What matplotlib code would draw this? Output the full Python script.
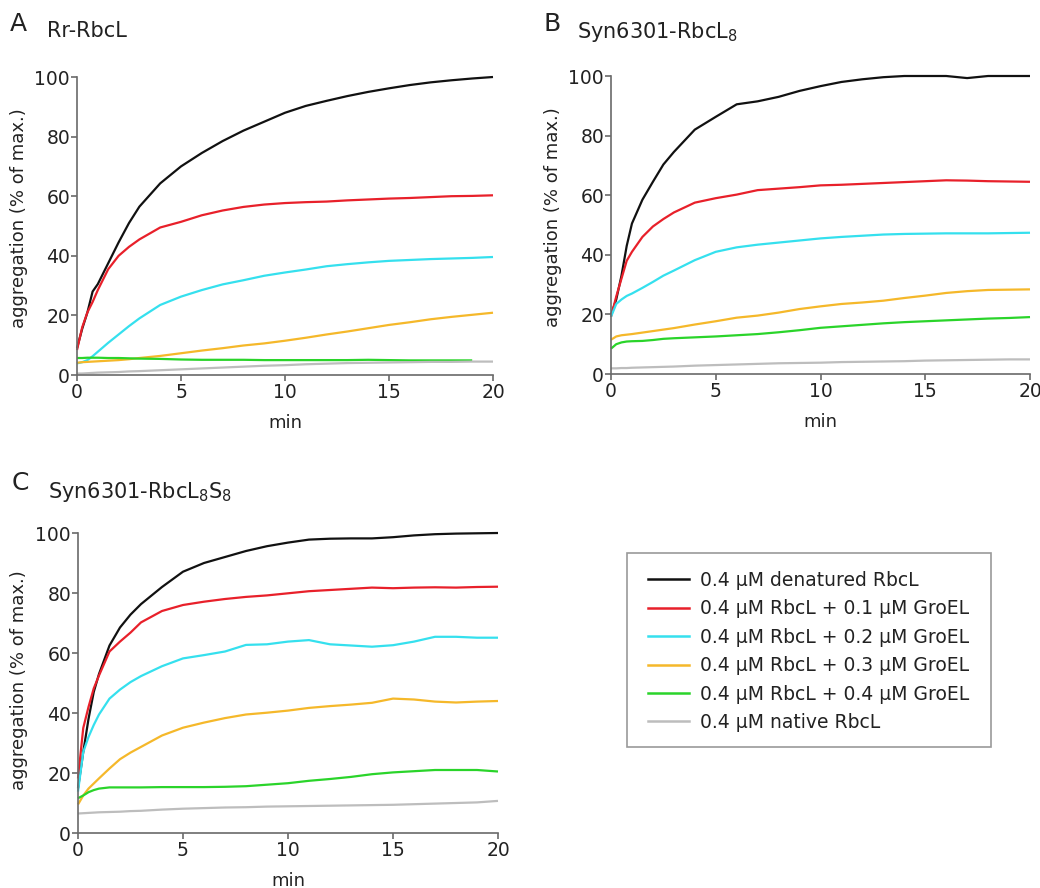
import numpy as np
import matplotlib
matplotlib.use("Agg")
import matplotlib.pyplot as plt
from matplotlib.lines import Line2D
from matplotlib.patches import Rectangle

plt.rcParams['font.family'] = ['DejaVu Sans']
plt.rcParams['mathtext.fontset'] = 'dejavusans'

# time axis (min), shared by all traces
t = [0, 0.25, 0.5, 0.75, 1, 1.5, 2, 2.5, 3, 4, 5, 6, 7, 8, 9, 10,
     11, 12, 13, 14, 15, 16, 17, 18, 19, 20]

series_labels = [
    "0.4 \u00b5M denatured RbcL",
    "0.4 \u00b5M RbcL + 0.1 \u00b5M GroEL",
    "0.4 \u00b5M RbcL + 0.2 \u00b5M GroEL",
    "0.4 \u00b5M RbcL + 0.3 \u00b5M GroEL",
    "0.4 \u00b5M RbcL + 0.4 \u00b5M GroEL",
    "0.4 \u00b5M native RbcL",
]
series_colors = ["#111111", "#e8202a", "#35e0ee", "#f5b82a", "#2ad42a", "#bdbdbd"]

# Panel A: Rr-RbcL
a_denat = [9, 15.5, 21, 28, 30.5, 37.5, 44.5, 51, 56.5, 64.3, 70, 74.5, 78.5, 82, 85, 88,
           90.3, 92, 93.6, 95, 96.2, 97.3, 98.2, 98.9, 99.5, 100]
a_groel01 = [8.4, 16, 21, 24.5, 28.5, 35.5, 40, 43, 45.5, 49.5, 51.4, 53.6, 55.2, 56.4, 57.2, 57.7,
             58, 58.2, 58.6, 58.9, 59.2, 59.4, 59.7, 60, 60.1, 60.3]
a_groel02 = [3.9, 4.3, 5, 6.3, 7.8, 10.8, 13.6, 16.4, 19, 23.5, 26.3, 28.5, 30.4, 31.8, 33.3, 34.4,
             35.4, 36.5, 37.2, 37.8, 38.3, 38.6, 38.9, 39.1, 39.3, 39.6]
a_groel03 = [4.1, 4.3, 4.4, 4.5, 4.6, 4.8, 5.0, 5.3, 5.7, 6.4, 7.3, 8.2, 9.0, 9.9, 10.6, 11.5,
             12.5, 13.6, 14.6, 15.7, 16.8, 17.7, 18.7, 19.5, 20.2, 20.9]
a_groel04 = [5.7, 5.7, 5.8, 5.8, 5.8, 5.7, 5.7, 5.6, 5.5, 5.4, 5.2, 5.1, 5.1, 5.1, 5.0, 5.0,
             5.0, 5.0, 5.0, 5.1, 5.0, 4.9, 4.9, 4.9, 4.9, np.nan]
a_native = [0.5, 0.5, 0.6, 0.7, 0.8, 0.9, 1.0, 1.2, 1.3, 1.6, 1.9, 2.2, 2.5, 2.8, 3.1, 3.3,
            3.6, 3.8, 4.0, 4.1, 4.2, 4.3, 4.4, 4.4, 4.5, 4.5]

# Panel B: Syn6301-RbcL8
b_denat = [19.8, 25, 33, 43, 50.5, 58.5, 64.5, 70.3, 74.5, 82, 86.3, 90.5, 91.5, 93, 95, 96.6,
           98, 98.9, 99.6, 100, 100, 100, 99.3, 100, 100, 100]
b_groel01 = [19.2, 26, 32, 38, 41, 46, 49.5, 52, 54.2, 57.5, 59, 60.2, 61.7, 62.2, 62.7, 63.3,
             63.5, 63.8, 64.1, 64.4, 64.7, 65, 64.9, 64.7, 64.6, 64.5]
b_groel02 = [19.2, 23.5, 25, 26.2, 27, 28.9, 30.9, 33, 34.7, 38.2, 41, 42.5, 43.4, 44.1, 44.8, 45.5,
             46, 46.4, 46.8, 47, 47.1, 47.2, 47.2, 47.2, 47.3, 47.4]
b_groel03 = [11.5, 12.6, 13, 13.2, 13.4, 13.9, 14.4, 14.9, 15.4, 16.6, 17.7, 18.9, 19.6, 20.6, 21.8, 22.7,
             23.5, 24, 24.6, 25.5, 26.3, 27.2, 27.8, 28.2, 28.3, 28.4]
b_groel04 = [8.5, 10.0, 10.6, 10.9, 11, 11.1, 11.4, 11.8, 12, 12.3, 12.6, 13, 13.4, 14, 14.7, 15.5,
             16, 16.5, 17, 17.4, 17.7, 18, 18.3, 18.6, 18.8, 19.1]
b_native = [1.9, 1.9, 2.0, 2.0, 2.1, 2.2, 2.3, 2.4, 2.5, 2.8, 3.0, 3.2, 3.4, 3.6, 3.7, 3.8,
            4.0, 4.1, 4.2, 4.3, 4.5, 4.6, 4.7, 4.8, 4.9, 4.9]

# Panel C: Syn6301-RbcL8S8
c_denat = [14.9, 27, 38, 47, 53, 62.5, 68.5, 72.8, 76.3, 82, 87.1, 90, 92, 94, 95.6, 96.8,
           97.8, 98.1, 98.2, 98.2, 98.6, 99.2, 99.6, 99.8, 99.9, 100]
c_groel01 = [18.2, 35, 42, 48.2, 52.5, 60.5, 63.8, 66.8, 70.2, 74, 76, 77.1, 78, 78.7, 79.2, 79.9,
             80.6, 81, 81.4, 81.8, 81.6, 81.8, 81.9, 81.8, 82, 82.1]
c_groel02 = [13.8, 27, 32, 36, 39.5, 44.8, 47.8, 50.3, 52.3, 55.6, 58.2, 59.3, 60.5, 62.7, 62.9, 63.8,
             64.3, 62.9, 62.5, 62.1, 62.6, 63.8, 65.4, 65.4, 65.1, 65.1]
c_groel03 = [9.5, 12.5, 14.8, 16.5, 18.2, 21.5, 24.6, 26.8, 28.7, 32.5, 35.1, 36.8, 38.3, 39.5, 40.1, 40.8,
             41.7, 42.3, 42.8, 43.4, 44.8, 44.5, 43.8, 43.5, 43.8, 44]
c_groel04 = [11.6, 12.5, 13.6, 14.3, 14.8, 15.2, 15.2, 15.2, 15.2, 15.3, 15.3, 15.3, 15.4, 15.6, 16.1, 16.6,
             17.4, 18, 18.7, 19.6, 20.2, 20.6, 21, 21, 21, 20.5]
c_native = [6.5, 6.6, 6.7, 6.8, 6.9, 7.0, 7.1, 7.3, 7.4, 7.8, 8.1, 8.3, 8.5, 8.6, 8.8, 8.9,
            9.0, 9.1, 9.2, 9.3, 9.4, 9.6, 9.8, 10.0, 10.2, 10.7]

panels = [
    ("A", "Rr-RbcL", [a_denat, a_groel01, a_groel02, a_groel03, a_groel04, a_native]),
    ("B", "Syn6301-RbcL$_8$", [b_denat, b_groel01, b_groel02, b_groel03, b_groel04, b_native]),
    ("C", "Syn6301-RbcL$_8$S$_8$", [c_denat, c_groel01, c_groel02, c_groel03, c_groel04, c_native]),
]

W, H = 1040, 888
fig = plt.figure(figsize=(W / 100, H / 100), dpi=100)
fig.patch.set_facecolor("white")


def px_rect(left, top, right, bottom):
    return [left / W, 1 - bottom / H, (right - left) / W, (bottom - top) / H]


axes_boxes = [px_rect(77, 77, 493, 375), px_rect(611, 76, 1030, 374), px_rect(78, 533, 498, 833)]
ylabel_y = [0.525, 0.525, 0.51]
# letter (x, baseline), title (x, baseline) in pixels
title_pos = [((10, 31), (47, 37)), ((543, 31), (577, 38)), ((12, 490), (48, 498))]

spine_col = "#6a6a6a"
text_col = "#222222"

for (letter, title, data), box, ly, (lp, tp) in zip(panels, axes_boxes, ylabel_y, title_pos):
    ax = fig.add_axes(box)
    for vals, col in zip(data, series_colors):
        ax.plot(t, vals, color=col, lw=1.6, clip_on=False, solid_capstyle="butt")
    ax.set_xlim(0, 20)
    ax.set_ylim(0, 100)
    ax.set_xticks([0, 5, 10, 15, 20])
    ax.set_yticks([0, 20, 40, 60, 80, 100])
    for side in ("top", "right"):
        ax.spines[side].set_visible(False)
    for side in ("left", "bottom"):
        ax.spines[side].set_color(spine_col)
        ax.spines[side].set_linewidth(1.2)
    ax.tick_params(direction="out", length=4, width=1.2, color=spine_col,
                   labelsize=13.5, labelcolor=text_col)
    ax.tick_params(axis="y", pad=1)
    ax.tick_params(axis="x", pad=2)
    ax.set_xlabel("min", fontsize=13, color=text_col)
    ax.xaxis.set_label_coords(0.5, -0.13)
    ax.xaxis.label.set_va("top")
    ax.set_ylabel("aggregation (% of max.)", fontsize=13, color=text_col)
    ax.yaxis.set_label_coords(-0.118, ly)

    fig.text(lp[0] / W, 1 - lp[1] / H, letter, fontsize=18, color=text_col,
             ha="left", va="baseline")
    fig.text(tp[0] / W, 1 - tp[1] / H, title, fontsize=15, color=text_col,
             ha="left", va="baseline")

# legend panel
handles = [Line2D([0], [0], color=c, lw=1.8) for c in series_colors]
fig.legend(handles, series_labels, loc="upper left",
           bbox_to_anchor=(648 / W, 1 - 571 / H), bbox_transform=fig.transFigure,
           frameon=False, fontsize=13.5, handlelength=2.2, handletextpad=0.55,
           labelspacing=0.5, borderpad=0, borderaxespad=0, labelcolor=text_col)
fig.patches.append(Rectangle((627 / W, 1 - 747 / H), (991 - 627) / W, (747 - 553) / H,
                             transform=fig.transFigure, fill=False,
                             edgecolor="#9a9a9a", lw=1.2))

fig.savefig("out.png", dpi=100, facecolor="white")
